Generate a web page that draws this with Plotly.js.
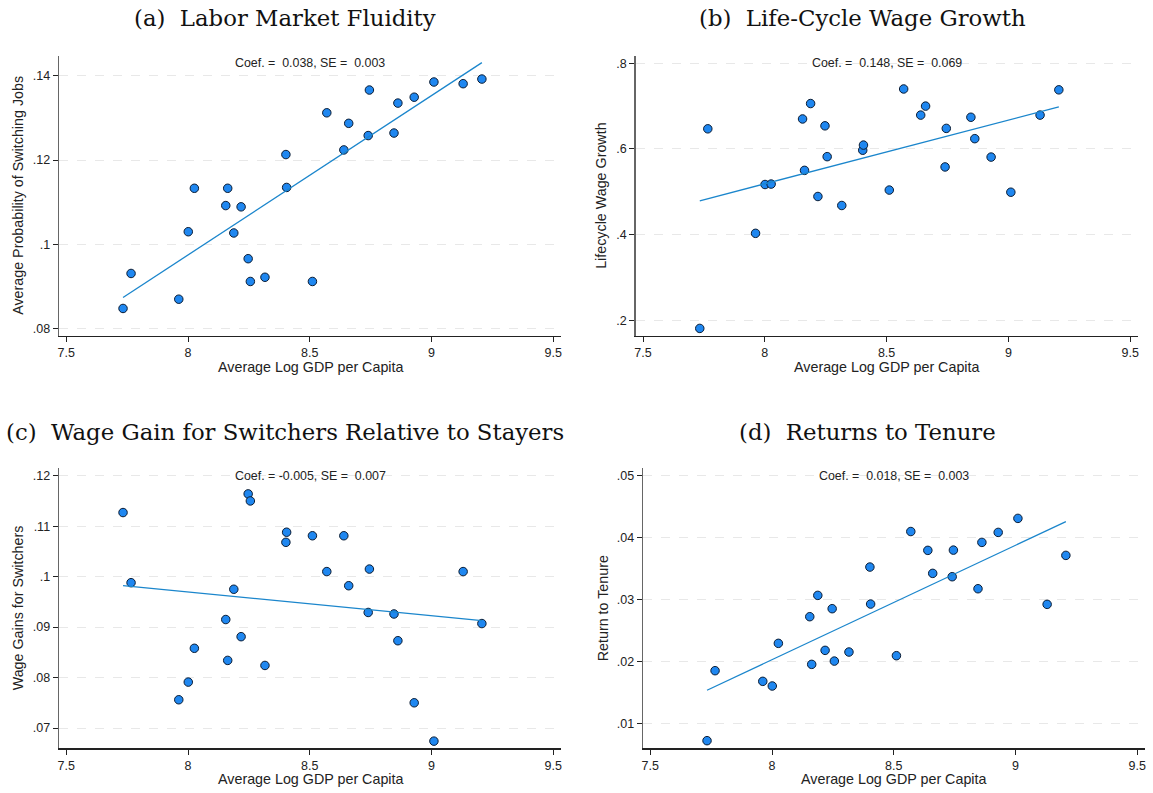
<!DOCTYPE html>
<html>
<head>
<meta charset="utf-8">
<script src="https://cdn.plot.ly/plotly-3.0.1.min.js"></script>
<style>
  html, body { margin: 0; padding: 0; background: #fff; }
  #chart { width: 1153px; height: 793px; }
</style>
</head>
<body>
<div id="chart"></div>
<script>
// average log GDP per capita, one value per country (shared by all four panels)
const gdp = [7.733, 7.766, 7.962, 8.001, 8.026, 8.155, 8.163, 8.188, 8.218, 8.247, 8.256, 8.316, 8.402,
  8.405, 8.511, 8.570, 8.640, 8.660, 8.740, 8.745, 8.846, 8.862, 8.929, 9.010, 9.130, 9.207];

const switchProb = [0.0848, 0.0931, 0.0870, 0.1030, 0.1133, 0.1092, 0.1133, 0.1027, 0.1089, 0.0966, 0.0912,
  0.0922, 0.1213, 0.1135, 0.0912, 0.1312, 0.1224, 0.1287, 0.1258, 0.1366, 0.1264, 0.1335, 0.1349, 0.1385,
  0.1381, 0.1392];
const wageGrowth = [0.181, 0.647, 0.403, 0.517, 0.518, 0.670, 0.550, 0.706, 0.489, 0.654, 0.582, 0.468,
  0.597, 0.609, 0.504, 0.740, 0.679, 0.700, 0.558, 0.648, 0.674, 0.624, 0.581, 0.499, 0.679, 0.738];
const switchGain = [0.1127, 0.0988, 0.0756, 0.0791, 0.0858, 0.0915, 0.0834, 0.0975, 0.0881, 0.1164, 0.1150,
  0.0824, 0.1068, 0.1088, 0.1081, 0.1010, 0.1081, 0.0982, 0.0929, 0.1015, 0.0926, 0.0873, 0.0750, 0.0674,
  0.1010, 0.0907];
const tenureReturn = [0.00726, 0.01855, 0.01683, 0.01608, 0.02296, 0.02726, 0.01957, 0.0307, 0.02183,
  0.02855, 0.0201, 0.02156, 0.03527, 0.0293, 0.02097, 0.0410, 0.03796, 0.03425, 0.03371, 0.0380, 0.03177,
  0.03925, 0.04086, 0.04312, 0.02925, 0.03715];

// fitted line values at the lowest and highest GDP
const fitA = [0.0874, 0.1431];
const fitB = [0.479, 0.698];
const fitC = [0.0982, 0.0913];
const fitD = [0.0154, 0.0426];

const panelTitles = [
  '(a)\u00a0 Labor Market Fluidity',
  '(b)\u00a0 Life-Cycle Wage Growth',
  '(c)\u00a0 Wage Gain for Switchers Relative to Stayers',
  '(d)\u00a0 Returns to Tenure'
];
const yTitles = ['Average Probability of Switching Jobs', 'Lifecycle Wage Growth',
  'Wage Gains for Switchers', 'Return to Tenure'];
const xTitle = 'Average Log GDP per Capita';
const coefLabels = [
  'Coef. = \u00a00.038, SE = \u00a00.003',
  'Coef. = \u00a00.148, SE = \u00a00.069',
  'Coef. = -0.005, SE = \u00a00.007',
  'Coef. = \u00a00.018, SE = \u00a00.003'
];

const xTicks = [7.5, 8, 8.5, 9, 9.5];
const xTickText = ['7.5', '8', '8.5', '9', '9.5'];
const yTicksA = [0.08, 0.10, 0.12, 0.14];
const yTickTextA = ['.08', '.1', '.12', '.14'];
const yTicksB = [0.2, 0.4, 0.6, 0.8];
const yTickTextB = ['.2', '.4', '.6', '.8'];
const yTicksC = [0.07, 0.08, 0.09, 0.10, 0.11, 0.12];
const yTickTextC = ['.07', '.08', '.09', '.1', '.11', '.12'];
const yTicksD = [0.01, 0.02, 0.03, 0.04, 0.05];
const yTickTextD = ['.01', '.02', '.03', '.04', '.05'];

const W = 1153, H = 793;
const sans = 'Liberation Sans, Arial, sans-serif';
const serif = 'DejaVu Serif, serif';

// plot boxes in pixels: [left, right, top, bottom]
const boxes = [
  [59, 561, 55.7, 336],
  [635.7, 1138, 55.7, 336],
  [59, 561, 468.3, 748.3],
  [643, 1145, 468.3, 748.3]
];
const yRanges = [[0.07827, 0.14474], [0.1633, 0.8177], [0.06598, 0.12147], [0.00603, 0.0512]];
const yTickSets = [[yTicksA, yTickTextA], [yTicksB, yTickTextB], [yTicksC, yTickTextC], [yTicksD, yTickTextD]];
const ySeries = [switchProb, wageGrowth, switchGain, tenureReturn];
const fits = [fitA, fitB, fitC, fitD];
const titleCenters = [[285, 18], [862, 18], [285, 432], [867, 432]];
const yTitleX = [18, 601, 18, 603];

const traces = [];
const layout = {
  width: W,
  height: H,
  margin: { l: 0, r: 0, t: 0, b: 0 },
  paper_bgcolor: '#fff',
  plot_bgcolor: '#fff',
  showlegend: false,
  annotations: []
};

boxes.forEach((b, i) => {
  const n = i === 0 ? '' : String(i + 1);
  const xa = 'x' + n, ya = 'y' + n;

  traces.push({
    x: gdp, y: ySeries[i], xaxis: xa, yaxis: ya,
    type: 'scatter', mode: 'markers',
    marker: { size: 8.5, color: '#1f87f0', line: { color: '#0b1c33', width: 1 } },
    cliponaxis: false
  });
  traces.push({
    x: [gdp[0], gdp[gdp.length - 1]], y: fits[i], xaxis: xa, yaxis: ya,
    type: 'scatter', mode: 'lines',
    line: { color: '#1b86cc', width: 1.3 }
  });

  layout['xaxis' + n] = {
    domain: [b[0] / W, b[1] / W],
    anchor: ya,
    range: [7.47, 9.532],
    tickvals: xTicks, ticktext: xTickText,
    ticks: 'outside', ticklen: 5, tickcolor: '#222', tickwidth: 1,
    showline: true, linecolor: '#222', linewidth: 1.2,
    showgrid: false, zeroline: false,
    tickfont: { family: sans, size: 12.5, color: '#222' }
  };
  layout['yaxis' + n] = {
    domain: [1 - b[3] / H, 1 - b[2] / H],
    anchor: xa,
    range: yRanges[i],
    tickvals: yTickSets[i][0], ticktext: yTickSets[i][1],
    ticks: 'outside', ticklen: 5, tickcolor: '#222', tickwidth: 1,
    showline: true, linecolor: '#666', linewidth: 1.4,
    showgrid: true, gridcolor: '#e8e8e8', griddash: 'dash', gridwidth: 1,
    zeroline: false,
    tickfont: { family: sans, size: 12.5, color: '#222' }
  };

  const midX = (b[0] + b[1]) / 2 / W;
  layout.annotations.push(
    { text: panelTitles[i], xref: 'paper', yref: 'paper', x: titleCenters[i][0] / W, y: 1 - titleCenters[i][1] / H,
      xanchor: 'center', yanchor: 'middle', showarrow: false, font: { family: serif, size: 22.8, color: '#111' } },
    { text: coefLabels[i], xref: 'paper', yref: 'paper', x: midX, y: 1 - (b[2] + 7.5) / H,
      xanchor: 'center', yanchor: 'middle', showarrow: false, font: { family: sans, size: 12.4, color: '#222' } },
    { text: xTitle, xref: 'paper', yref: 'paper', x: midX, y: 1 - (b[3] + 30.5) / H,
      xanchor: 'center', yanchor: 'middle', showarrow: false, font: { family: sans, size: 14.3, color: '#222' } },
    { text: yTitles[i], xref: 'paper', yref: 'paper', x: yTitleX[i] / W, y: 1 - (b[2] + b[3]) / 2 / H,
      xanchor: 'center', yanchor: 'middle', textangle: -90, showarrow: false,
      font: { family: sans, size: 14.3, color: '#222' } }
  );
});

Plotly.newPlot('chart', traces, layout, { staticPlot: true, displayModeBar: false });
</script>
</body>
</html>
